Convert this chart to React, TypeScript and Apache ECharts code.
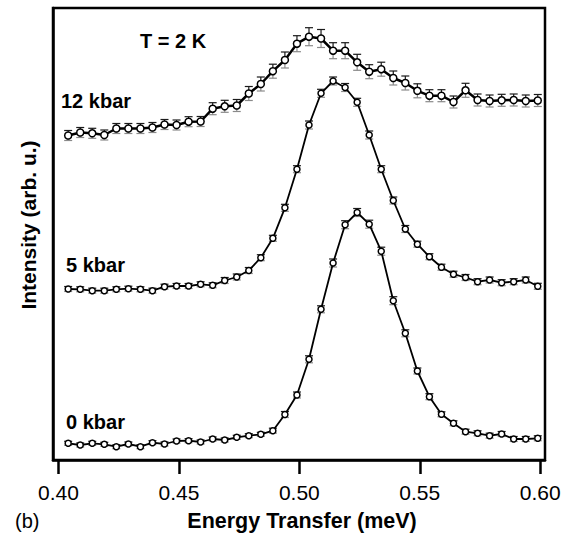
import React, { useEffect, useRef } from "react";
import * as echarts from "echarts";

const energies = [
  0.404, 0.409, 0.414, 0.419, 0.424, 0.429, 0.434, 0.439, 0.444, 0.449,
  0.454, 0.459, 0.464, 0.469, 0.474, 0.479, 0.484, 0.489, 0.494, 0.499,
  0.504, 0.509, 0.514, 0.519, 0.524, 0.529, 0.534, 0.539, 0.544, 0.549,
  0.554, 0.559, 0.564, 0.569, 0.574, 0.579, 0.584, 0.589, 0.594, 0.599,
];

const int12 = [
  324.5, 327.5, 326.7, 325, 331.5, 331.5, 331.5, 332.5, 335.5, 335,
  338.3, 338.5, 351.3, 353.7, 354.5, 366.5, 376, 388.8, 400, 416.3,
  423.3, 421.5, 409.3, 409.3, 397.7, 388.3, 390.8, 382, 377, 369.2,
  364.3, 364.3, 358, 369.7, 360, 359, 359.7, 360, 359, 359.5,
];
const err12 = [
  5, 5, 5, 5, 5, 5, 5, 5, 5, 5,
  5, 5, 6, 6, 6, 7, 7, 7, 8, 8,
  9, 9, 8, 8, 8, 7, 7, 7, 7, 7,
  6, 6, 6, 7, 6, 6, 6, 6, 6, 6,
];

const int5 = [
  171, 170.7, 169.3, 169.3, 170.7, 171.3, 170.7, 169.3, 173.3, 174,
  174, 175.7, 174.7, 179.5, 183, 189.5, 202.3, 221.7, 252.2, 290.8,
  335, 366.7, 379, 372.5, 357.7, 325, 290.8, 259.5, 231, 215.8,
  203.3, 192.8, 185.8, 182.5, 178.3, 180, 177.3, 178.3, 180, 173.7,
];
const err5 = [
  2.5, 2.5, 2.5, 2.5, 2.5, 2.5, 2.5, 2.5, 2.5, 2.5,
  2.5, 2.5, 2.5, 3, 3, 3, 3, 3, 3.5, 3.5,
  4, 4, 4, 4, 4, 4, 3.5, 3.5, 3.5, 3,
  3, 3, 3, 3, 3, 3, 3, 3, 3, 3,
];

const int0 = [
  16.7, 15, 16.7, 15.7, 13.3, 16, 13.3, 17.3, 16, 19,
  19.3, 18, 21, 20, 22.7, 24.3, 25.7, 29.3, 45.5, 65,
  100.7, 150.7, 197, 235.3, 247.5, 235.8, 208.8, 159.3, 126.7, 89,
  63.3, 45.7, 36.7, 28.3, 26.7, 24.3, 26, 21, 21, 21.7,
];
const err0 = [
  2, 2, 2, 2, 2, 2, 2, 2, 2, 2,
  2, 2, 2, 2, 2, 2, 2, 2.5, 3, 3,
  3.5, 3.5, 4, 4, 4, 4, 4, 4, 3.5, 3,
  3, 2.5, 2.5, 2.5, 2.5, 2.5, 2.5, 2.5, 2.5, 2.5,
];

const xTicks = [0.4, 0.45, 0.5, 0.55, 0.6];
const seriesLabels = ["12 kbar", "5 kbar", "0 kbar"];

const FONT = "'Liberation Sans', Arial, Helvetica, sans-serif";

function errBars(vals: number[], errs: number[]) {
  return energies.map((x, i) => [x, vals[i], errs[i]]);
}

const renderErr = (params: any, api: any) => {
  const x = api.value(0);
  const y = api.value(1);
  const e = api.value(2);
  const c = api.coord([x, y]);
  const t = api.coord([x, y + e]);
  const b = api.coord([x, y - e]);
  const w = 4;
  const dark = { stroke: "#1a1a1a", lineWidth: 1.2 };
  const light = { stroke: "#8a8a8a", lineWidth: 1.2 };
  return {
    type: "group",
    children: [
      { type: "line", shape: { x1: c[0], y1: t[1], x2: c[0], y2: c[1] }, style: dark },
      { type: "line", shape: { x1: c[0] - w, y1: t[1], x2: c[0] + w, y2: t[1] }, style: dark },
      { type: "line", shape: { x1: c[0], y1: c[1], x2: c[0], y2: b[1] }, style: light },
      { type: "line", shape: { x1: c[0] - w, y1: b[1], x2: c[0] + w, y2: b[1] }, style: light },
    ],
  };
};

function lineSeries(name: string, vals: number[], lw: number, size: number) {
  return {
    name,
    type: "line",
    data: energies.map((x, i) => [x, vals[i]]),
    symbol: "circle",
    symbolSize: size,
    showSymbol: true,
    z: 3,
    lineStyle: { color: "#000", width: lw },
    itemStyle: { color: "#fff", borderColor: "#000", borderWidth: 1.5 },
  };
}

export default function App() {
  const ref = useRef<HTMLDivElement>(null);
  useEffect(() => {
    if (!ref.current) return;
    const chart = echarts.init(ref.current, undefined, { renderer: "svg" });
    chart.setOption({
      animation: false,
      backgroundColor: "#fff",
      grid: {
        left: 53,
        right: 22,
        top: 8,
        bottom: 79,
        show: true,
        borderColor: "#000",
        borderWidth: 2.5,
        backgroundColor: "transparent",
      },
      xAxis: {
        type: "value",
        min: 0.3977,
        max: 0.602,
        axisLine: { show: true, lineStyle: { color: "#000", width: 2.5 } },
        axisTick: {
          show: true,
          customValues: xTicks,
          length: 14,
          inside: false,
          lineStyle: { color: "#000", width: 2.5 },
        },
        axisLabel: {
          customValues: xTicks,
          formatter: (v: number) => v.toFixed(2),
          fontSize: 21,
          fontFamily: FONT,
          color: "#000",
          margin: 22,
        },
        splitLine: { show: false },
      },
      yAxis: {
        type: "value",
        min: 0,
        max: 452,
        axisLine: { show: true, lineStyle: { color: "#000", width: 2.5 } },
        axisTick: { show: false },
        axisLabel: { show: false },
        splitLine: { show: false },
      },
      graphic: [
        {
          type: "text",
          left: 140,
          top: 31,
          style: { text: "T = 2 K", font: `bold 20px ${FONT}`, fill: "#000" },
        },
        {
          type: "text",
          left: 61,
          top: 91,
          style: { text: seriesLabels[0], font: `bold 20px ${FONT}`, fill: "#000" },
        },
        {
          type: "text",
          left: 66,
          top: 255,
          style: { text: seriesLabels[1], font: `bold 20px ${FONT}`, fill: "#000" },
        },
        {
          type: "text",
          left: 66,
          top: 412,
          style: { text: seriesLabels[2], font: `bold 20px ${FONT}`, fill: "#000" },
        },
        {
          type: "text",
          x: 302,
          y: 521,
          style: {
            text: "Energy Transfer (meV)",
            font: `bold 21.5px ${FONT}`,
            fill: "#000",
            align: "center",
            verticalAlign: "middle",
          },
        },
        {
          type: "text",
          x: 28,
          y: 225,
          rotation: Math.PI / 2,
          style: {
            text: "Intensity (arb. u.)",
            font: `bold 21px ${FONT}`,
            fill: "#000",
            align: "center",
            verticalAlign: "middle",
          },
        },
        {
          type: "text",
          x: 15,
          y: 521,
          style: {
            text: "(b)",
            font: `20px ${FONT}`,
            fill: "#000",
            align: "left",
            verticalAlign: "middle",
          },
        },
      ],
      series: [
        { type: "custom", renderItem: renderErr, data: errBars(int12, err12), z: 2, silent: true },
        { type: "custom", renderItem: renderErr, data: errBars(int5, err5), z: 2, silent: true },
        { type: "custom", renderItem: renderErr, data: errBars(int0, err0), z: 2, silent: true },
        lineSeries(seriesLabels[0], int12, 2.5, 7),
        lineSeries(seriesLabels[1], int5, 1.8, 6),
        lineSeries(seriesLabels[2], int0, 1.8, 6),
      ],
    });
    return () => chart.dispose();
  }, []);
  return (
    <div
      ref={ref}
      style={{ position: "absolute", left: 0, top: 0, width: 567, height: 539 }}
    />
  );
}
